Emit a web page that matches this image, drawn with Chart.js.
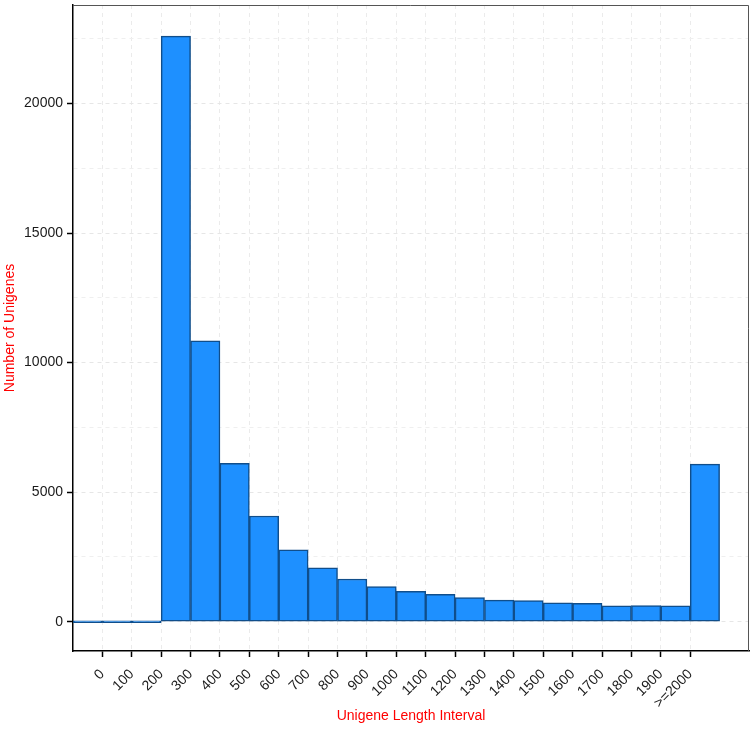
<!DOCTYPE html>
<html>
<head>
<meta charset="utf-8">
<script src="https://cdn.jsdelivr.net/npm/chart.js@4/dist/chart.umd.min.js"></script>
<style>
  html, body { margin: 0; padding: 0; background: #fff; }
  #wrap { width: 754px; height: 730px; }
</style>
</head>
<body>
<div id="wrap"><canvas id="chartLongitud"></canvas></div>
<script>
// intervalos (inicio de cada bin) y cantidades
const binStarts = [-100, 0, 100, 200, 300, 400, 500, 600, 700, 800, 900, 1000,
                   1100, 1200, 1300, 1400, 1500, 1600, 1700, 1800, 1900, 2000];
const unigeneCounts = [0, 0, 0, 22600, 10840, 6110, 4080, 2770, 2080, 1650, 1360, 1170,
                       1060, 935, 835, 820, 730, 705, 615, 625, 615, 6080];

const xTickValues = [0, 100, 200, 300, 400, 500, 600, 700, 800, 900, 1000,
                     1100, 1200, 1300, 1400, 1500, 1600, 1700, 1800, 1900, 2000];
const xTickLabels = ['0', '100', '200', '300', '400', '500', '600', '700', '800', '900', '1000',
                     '1100', '1200', '1300', '1400', '1500', '1600', '1700', '1800', '1900', '>=2000'];
const yTickValues = [0, 2500, 5000, 7500, 10000, 12500, 15000, 17500, 20000, 22500];
const yMajor = [0, 5000, 10000, 15000, 20000];

const puntos = binStarts.map((b, i) => ({ x: b + 50, y: unigeneCounts[i] }));

// borde gris arriba y a la derecha
const marcoPanel = {
    id: 'marcoPanel',
    afterDraw(chart) {
        const a = chart.chartArea, ctx = chart.ctx;
        ctx.save();
        ctx.strokeStyle = '#555';
        ctx.lineWidth = 1;
        ctx.beginPath();
        ctx.moveTo(a.left, a.top + 0.5);
        ctx.lineTo(a.right - 0.5, a.top + 0.5);
        ctx.lineTo(a.right - 0.5, a.bottom);
        ctx.stroke();
        ctx.restore();
    }
};

Chart.defaults.font.family = '"Liberation Sans", Arial, sans-serif';

new Chart(document.getElementById('chartLongitud'), {
    type: 'bar',
    data: {
        datasets: [{
            data: puntos,
            backgroundColor: '#1E90FF',
            borderColor: '#104E8B',
            borderWidth: 1.5,
            borderSkipped: false,
            barPercentage: 1,
            categoryPercentage: 1,
            minBarLength: 2
        }]
    },
    options: {
        responsive: true,
        maintainAspectRatio: false,
        animation: false,
        layout: { padding: { top: 5, right: 5, left: 0, bottom: 0 } },
        plugins: { legend: { display: false }, tooltip: { enabled: false } },
        scales: {
            x: {
                type: 'linear',
                offset: false,
                min: -100,
                max: 2200,
                afterBuildTicks: axis => { axis.ticks = xTickValues.map(v => ({ value: v })); },
                afterFit: axis => { axis.height = 79; axis.paddingLeft = 0; axis.paddingRight = 0; },
                ticks: {
                    autoSkip: false,
                    minRotation: 45,
                    maxRotation: 45,
                    color: '#1a1a1a',
                    font: { size: 14 },
                    padding: 9,
                    callback: (v) => xTickLabels[xTickValues.indexOf(v)]
                },
                grid: {
                    offset: false,
                    color: '#ebebeb',
                    lineWidth: 1,
                    tickColor: '#000',
                    tickLength: 6,
                    tickWidth: 1.5
                },
                border: { display: true, color: '#000', width: 1.5, dash: [4, 4] },
                title: {
                    display: true,
                    text: 'Unigene Length Interval',
                    color: '#FF0000',
                    font: { size: 14 },
                    padding: { top: 0, bottom: 5 }
                }
            },
            y: {
                min: -1130,
                max: 23800,
                afterBuildTicks: axis => { axis.ticks = yTickValues.map(v => ({ value: v })); },
                afterFit: axis => { axis.width = 73; axis.paddingTop = 0; axis.paddingBottom = 0; },
                ticks: {
                    color: '#1a1a1a',
                    font: { size: 14 },
                    padding: 4,
                    callback: (v) => yMajor.includes(v) ? String(v) : ''
                },
                grid: {
                    color: ctx => yMajor.includes(ctx.tick && ctx.tick.value) ? '#e6e6e6' : '#efefef',
                    lineWidth: 1,
                    tickColor: ctx => yMajor.includes(ctx.tick && ctx.tick.value) ? '#000' : 'rgba(0,0,0,0)',
                    tickLength: 6,
                    tickWidth: 1.5
                },
                border: { display: true, color: '#000', width: 1.5, dash: [4, 4] },
                title: {
                    display: true,
                    text: 'Number of Unigenes',
                    color: '#FF0000',
                    font: { size: 14 },
                    padding: { top: 2, bottom: 0 }
                }
            }
        }
    },
    plugins: [marcoPanel]
});
</script>
</body>
</html>
